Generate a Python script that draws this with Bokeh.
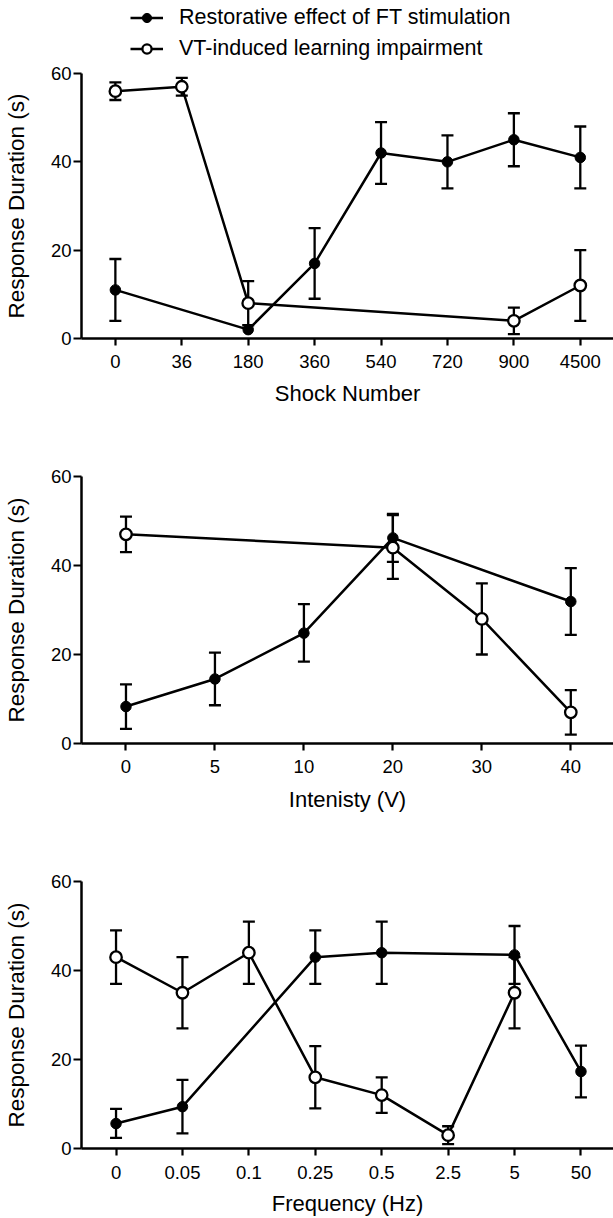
from bokeh.plotting import figure
from bokeh.models import (Range1d, FixedTicker, ColumnDataSource, Whisker, TeeHead,
                          Legend, LegendItem)
from bokeh.layouts import column
from bokeh.embed import file_html
from bokeh.resources import INLINE

FONT = "Liberation Sans"
NAN = float("nan")

# ---------------- data ----------------
shock_labels = ["0", "36", "180", "360", "540", "720", "900", "4500"]
shock_ft_mean = [11, None, 2, 17, 42, 40, 45, 41]
shock_ft_low = [4, None, None, 9, 35, 34, 39, 34]
shock_ft_high = [18, None, None, 25, 49, 46, 51, 48]
shock_vt_mean = [56, 57, 8, None, None, None, 4, 12]
shock_vt_low = [54, 55, 3, None, None, None, 1, 4]
shock_vt_high = [58, 59, 13, None, None, None, 7, 20]

int_labels = ["0", "5", "10", "20", "30", "40"]
int_ft_mean = [8.3, 14.5, 24.8, 46.2, None, 31.9]
int_ft_low = [3.3, 8.6, 18.4, 40.8, None, 24.4]
int_ft_high = [13.3, 20.4, 31.3, 51.6, None, 39.4]
int_vt_mean = [47, None, None, 44, 28, 7]
int_vt_low = [43, None, None, 37, 20, 2]
int_vt_high = [51, None, None, 51.3, 36, 12]

freq_labels = ["0", "0.05", "0.1", "0.25", "0.5", "2.5", "5", "50"]
freq_ft_mean = [5.6, 9.4, None, 43, 44, None, 43.5, 17.3]
freq_ft_low = [2.4, 3.4, None, 37, 37, None, 37, 11.5]
freq_ft_high = [8.9, 15.4, None, 49, 51, None, 50, 23.1]
freq_vt_mean = [43, 35, 44, 16, 12, 3, 35, None]
freq_vt_low = [37, 27, 37, 9, 8, 1, 27, None]
freq_vt_high = [49, 43, 51, 23, 16, 5, 43, None]

y_ticks = [0, 20, 40, 60]
y_label = "Response Duration (s)"
legend_labels = ["Restorative effect of FT stimulation", "VT-induced learning impairment"]


def pts(vals):
    xs = [i for i, v in enumerate(vals) if v is not None]
    return xs, [vals[i] for i in xs]


def err_src(mean, low, high):
    xs = [i for i in range(len(mean)) if mean[i] is not None and low[i] is not None]
    return ColumnDataSource(dict(x=xs, lower=[low[i] for i in xs], upper=[high[i] for i in xs]))


def add_whisker(p, src):
    w = Whisker(base="x", lower="lower", upper="upper", source=src,
                line_color="black", line_width=2.3,
                upper_head=TeeHead(size=12, line_width=2.3, line_color="black"),
                lower_head=TeeHead(size=12, line_width=2.3, line_color="black"))
    p.add_layout(w)


def series_glyphs(p, fx, fy, vx, vy):
    l1 = p.line(fx, fy, line_color="black", line_width=2.5)
    l2 = p.line(vx, vy, line_color="black", line_width=2.5)
    s1 = p.scatter(fx, fy, size=10.5, marker="circle", fill_color="black",
                   line_color="black", line_width=1)
    s2 = p.scatter(vx, vy, size=11.5, marker="circle", fill_color="white",
                   line_color="black", line_width=2.3)
    return l1, s1, l2, s2


def make_panel(labels, ft, ft_lo, ft_hi, vt, vt_lo, vt_hi, xlabel, x0, x1,
               height, btop, bbottom, tick_standoff, label_standoff):
    p = figure(width=613, height=height, output_backend="svg", toolbar_location=None,
               x_range=Range1d(x0, x1), y_range=Range1d(0, 60),
               min_border_left=77, min_border_right=0,
               min_border_top=btop, min_border_bottom=bbottom)
    p.outline_line_color = None
    p.xgrid.grid_line_color = None
    p.ygrid.grid_line_color = None

    add_whisker(p, err_src(ft, ft_lo, ft_hi))
    add_whisker(p, err_src(vt, vt_lo, vt_hi))

    fx, fy = pts(ft)
    vx, vy = pts(vt)
    series_glyphs(p, fx, fy, vx, vy)

    p.xaxis.ticker = FixedTicker(ticks=list(range(len(labels))))
    p.xaxis.major_label_overrides = {i: lab for i, lab in enumerate(labels)}
    p.yaxis.ticker = FixedTicker(ticks=y_ticks)
    p.xaxis.axis_label = xlabel
    p.yaxis.axis_label = y_label

    for ax in (p.xaxis[0], p.yaxis[0]):
        ax.axis_line_width = 2.5
        ax.axis_line_color = "black"
        ax.major_tick_line_width = 2.2
        ax.major_tick_line_color = "black"
        ax.major_tick_in = 0
        ax.minor_tick_line_color = None
        ax.major_label_text_font = FONT
        ax.major_label_text_font_size = "18.5px"
        ax.major_label_text_color = "black"
        ax.axis_label_text_font = FONT
        ax.axis_label_text_font_size = "22px"
        ax.axis_label_text_font_style = "normal"
        ax.axis_label_text_color = "black"
    p.yaxis.axis_label_text_font_size = "22.5px"
    p.xaxis.major_tick_out = 7
    p.yaxis.major_tick_out = 8
    p.xaxis.major_label_standoff = tick_standoff
    p.xaxis.axis_label_standoff = label_standoff
    p.yaxis.major_label_standoff = 2
    p.yaxis.axis_label_standoff = 19
    return p


# legend strip above the first panel (placeholder renderers hold no visible data)
p0 = figure(width=613, height=63, output_backend="svg", toolbar_location=None,
            x_range=Range1d(0, 1), y_range=Range1d(0, 1),
            x_axis_type=None, y_axis_type=None,
            min_border_left=0, min_border_right=0, min_border_top=0, min_border_bottom=0)
p0.outline_line_color = None
p0.xgrid.grid_line_color = None
p0.ygrid.grid_line_color = None
l1, s1, l2, s2 = series_glyphs(p0, [NAN], [NAN], [NAN], [NAN])
legend = Legend(items=[LegendItem(label=legend_labels[0], renderers=[l1, s1]),
                       LegendItem(label=legend_labels[1], renderers=[l2, s2])],
                location=(49, 2.5), glyph_width=33, glyph_height=23,
                label_height=23, label_standoff=16, spacing=6, padding=0, margin=0,
                label_text_font=FONT, label_text_font_size="21.5px",
                label_text_color="black",
                border_line_color=None, background_fill_alpha=0)
p0.add_layout(legend)

p1 = make_panel(shock_labels, shock_ft_mean, shock_ft_low, shock_ft_high,
                shock_vt_mean, shock_vt_low, shock_vt_high, "Shock Number",
                -0.51, 7.5, 352, 10, 77, 9, 10)
p2 = make_panel(int_labels, int_ft_mean, int_ft_low, int_ft_high,
                int_vt_mean, int_vt_low, int_vt_high, "Intenisty (V)",
                -0.50, 5.48, 405, 61, 77, 9, 11)
p3 = make_panel(freq_labels, freq_ft_mean, freq_ft_low, freq_ft_high,
                freq_vt_mean, freq_vt_low, freq_vt_high, "Frequency (Hz)",
                -0.52, 7.49, 398, 61, 70, 10, 9)

layout = column(p0, p1, p2, p3)
open("out.html", "w").write(file_html(layout, INLINE))
